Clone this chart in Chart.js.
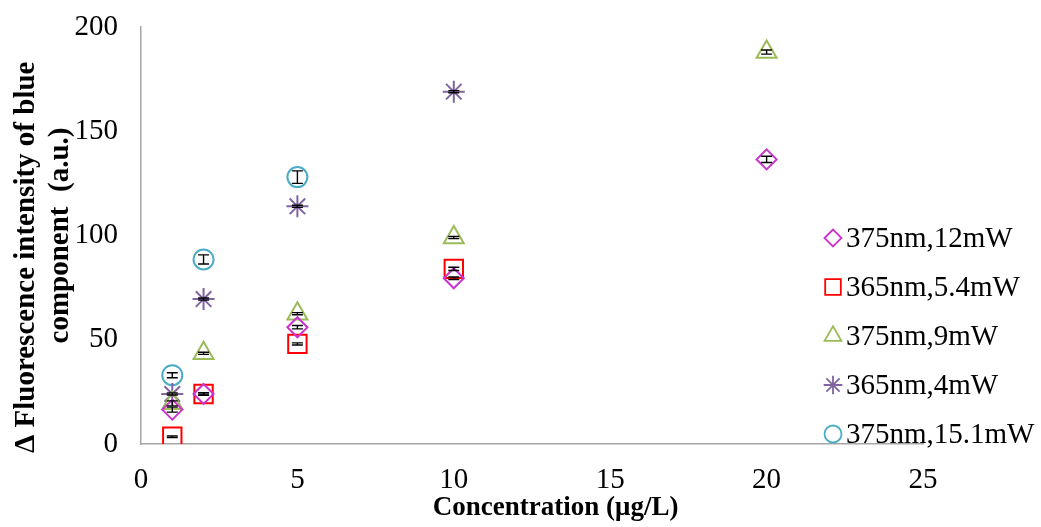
<!DOCTYPE html>
<html>
<head>
<meta charset="utf-8">
<script src="https://cdn.jsdelivr.net/npm/chart.js@4.4.1/dist/chart.umd.min.js"></script>
<style>
  html,body{margin:0;padding:0;background:#fff}
  #wrap{position:relative;width:1041px;height:527px}
</style>
</head>
<body>
<div id="wrap"><canvas id="c" width="1041" height="527" role="img" aria-label="Delta fluorescence intensity of blue component vs concentration"></canvas></div>
<script>
// concentration (µg/L)
const CONC = [1, 2, 5, 10, 20]

// Δ fluorescence, one array per light source (null = no point)
const S375_12  = [16.5, 24, 56, 79.5, 136.5]
const S365_54  = [3.5, 24, 48, 84, null]
const S375_9   = [19.5, 43.5, 62.5, 99, 188]
const S365_4   = [24, 69.5, 114, 169, null]
const S375_151 = [33, 88.5, 128, null, null]

// error bar half-heights
const E375_12  = [1.2, 0.6, 0.8, 0.6, 1.5]
const E365_54  = [0.4, 0.5, 0.5, 0.8, null]
const E375_9   = [1.2, 0.5, 0.5, 0.5, 1]
const E365_4   = [0.5, 0.5, 0.5, 0.5, null]
const E375_151 = [1.2, 2.2, 3, null, null]

const LABELS = ['375nm,12mW','365nm,5.4mW','375nm,9mW','365nm,4mW','375nm,15.1mW']
const X_TICKS = [0, 5, 10, 15, 20, 25]
const Y_TICKS = [0, 50, 100, 150, 200]

const serif = '"Liberation Serif","Times New Roman",serif'
const pts = ys => CONC.map((x,i)=>({x, y:ys[i]})).filter(p=>p.y!==null)

const series = [
  {ys:S375_12,  err:E375_12,  color:'#CC33CC', style:'rectRot',  r:10},
  {ys:S365_54,  err:E365_54,  color:'#FF0000', style:'rect',     r:13},
  {ys:S375_9,   err:E375_9,   color:'#9BBB59', style:'triangle', r:11.5},
  {ys:S365_4,   err:E365_4,   color:'#8064A2', style:'star',     r:11},
  {ys:S375_151, err:E375_151, color:'#4BACC6', style:'circle',   r:10},
]

const errorBars = {
  id:'errorBars',
  afterDatasetsDraw(chart){
    const {ctx, scales:{x, y}} = chart
    ctx.save()
    ctx.strokeStyle = '#000'
    ctx.lineWidth = 1.4
    series.forEach(s=>{
      CONC.forEach((c,i)=>{
        if (s.ys[i]===null) return
        const px = x.getPixelForValue(c)
        const top = y.getPixelForValue(s.ys[i]+s.err[i])
        const bot = y.getPixelForValue(s.ys[i]-s.err[i])
        ctx.beginPath()
        ctx.moveTo(px, top); ctx.lineTo(px, bot)
        ctx.moveTo(px-5.5, top); ctx.lineTo(px+5.5, top)
        ctx.moveTo(px-5.5, bot); ctx.lineTo(px+5.5, bot)
        ctx.stroke()
      })
    })
    ctx.restore()
  }
}

const sideLegend = {
  id:'sideLegend',
  afterDraw(chart){
    const ctx = chart.ctx
    ctx.save()
    ctx.font = '29px ' + serif
    ctx.textBaseline = 'middle'
    ctx.textAlign = 'left'
    series.forEach((s,i)=>{
      const yy = 238 + i*49
      ctx.strokeStyle = s.color
      ctx.fillStyle = 'rgba(0,0,0,0)'
      ctx.lineWidth = 1.8
      Chart.helpers.drawPoint(ctx, {pointStyle:s.style, radius:s.r*0.85, rotation:0, borderWidth:1.8}, 833, yy)
      ctx.fillStyle = '#000'
      ctx.fillText(LABELS[i], 846, yy+1)
    })
    ctx.restore()
  }
}

new Chart(document.getElementById('c'),{
  type:'scatter',
  data:{datasets:series.map((s,i)=>({
    label:LABELS[i], data:pts(s.ys),
    pointStyle:s.style, pointRadius:s.r, pointHoverRadius:s.r,
    borderColor:s.color, backgroundColor:'rgba(0,0,0,0)', pointBorderWidth:2
  }))},
  options:{
    responsive:false, animation:false,
    layout:{padding:{left:0, right:118, top:27, bottom:0}},
    plugins:{legend:{display:false}, tooltip:{enabled:false}},
    scales:{
      x:{
        type:'linear', min:0, max:25,
        afterBuildTicks:sc=>{sc.ticks = X_TICKS.map(v=>({value:v}))},
        afterFit:sc=>{sc.height = 83},
        grid:{display:false, drawTicks:false},
        border:{display:true, color:'#a6a6a6', width:1.5},
        ticks:{color:'#000', padding:19, font:{family:serif, size:29}},
        title:{display:true, text:'       Concentration (μg/L)', color:'#000', padding:{top:0, bottom:3},
          font:{family:serif, size:27, weight:'bold'}}
      },
      y:{
        min:0, max:200,
        afterBuildTicks:sc=>{sc.ticks = Y_TICKS.map(v=>({value:v}))},
        afterFit:sc=>{sc.width = 141; sc.paddingTop = 10; sc.paddingBottom = 10},
        grid:{display:false, drawTicks:false},
        border:{display:true, color:'#a6a6a6', width:1.5},
        ticks:{color:'#000', padding:23, font:{family:serif, size:29}},
        title:{display:true, text:['Δ Fluorescence intensity of blue      ','component  (a.u.)'], color:'#000',
          padding:{top:10, bottom:0}, font:{family:serif, size:29, weight:'bold', lineHeight:1.17}}
      }
    }
  },
  plugins:[errorBars, sideLegend]
})
</script>
</body>
</html>
